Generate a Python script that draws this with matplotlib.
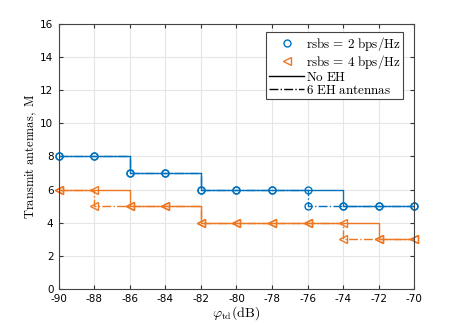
import matplotlib
matplotlib.use("Agg")
import matplotlib.pyplot as plt
from matplotlib.lines import Line2D

plt.rcParams['mathtext.fontset'] = 'cm'
plt.rcParams['axes.unicode_minus'] = False

# data
x_db = [-90, -88, -86, -84, -82, -80, -78, -76, -74, -72, -70]
m_r2_noeh = [8, 8, 7, 7, 6, 6, 6, 6, 5, 5, 5]
m_r2_eh = [8, 8, 7, 7, 6, 6, 6, 5, 5, 5, 5]
m_r4_noeh = [6, 6, 5, 5, 4, 4, 4, 4, 4, 3, 3]
m_r4_eh = [6, 5, 5, 5, 4, 4, 4, 4, 3, 3, 3]

BLUE = '#0072BD'
ORANGE = '#EE7722'
lw = 1.0

fig = plt.figure(figsize=(4.57, 3.25), dpi=100)
ax = fig.add_axes([0.129, 0.111, 0.777, 0.815])

for y, col, mk, ms, ls in [(m_r2_eh, BLUE, 'o', 5, '-.'),
                           (m_r4_eh, ORANGE, '<', 6, '-.'),
                           (m_r2_noeh, BLUE, 'o', 5, '-'),
                           (m_r4_noeh, ORANGE, '<', 6, '-')]:
    ax.step(x_db, y, where='post', color=col, lw=lw, ls=ls)
    ax.plot(x_db, y, ls='none', marker=mk, mfc='none', mec=col, ms=ms, mew=1.0,
            clip_on=False)

ax.set_xlim(-90, -70)
ax.set_ylim(0, 16)
ax.set_xticks(range(-90, -69, 2))
ax.set_yticks(range(0, 17, 2))
ax.grid(True, color='#e6e6e6', lw=0.8)
ax.set_axisbelow(True)
ax.tick_params(direction='in', top=True, right=True, labelsize=7.5, length=3,
               color='#333333', pad=4)
for s in ax.spines.values():
    s.set_color('#444444')
    s.set_linewidth(0.8)

ax.set_xlabel(r'$\varphi_{\rm td}\mathrm{(dB)}$', fontsize=10, labelpad=0)
ax.set_ylabel(r'$\mathrm{Transmit\ antennas,\ M}$', fontsize=9, labelpad=1)

handles = [
    Line2D([], [], ls='none', marker='o', mfc='none', mec=BLUE, ms=5),
    Line2D([], [], ls='none', marker='<', mfc='none', mec=ORANGE, ms=6),
    Line2D([], [], color='k', lw=1.0, ls='-'),
    Line2D([], [], color='k', lw=1.0, ls='-.'),
]
labels = [r'$\mathrm{rsbs}\, =\, 2\ \mathrm{bps/Hz}$',
          r'$\mathrm{rsbs}\, =\, 4\ \mathrm{bps/Hz}$',
          r'$\mathrm{No\ EH}$',
          r'$\mathrm{6\ EH\ antennas}$']
leg = ax.legend(handles, labels, loc='upper right', fontsize=9.4,
                bbox_to_anchor=(0.97, 0.97), fancybox=False, framealpha=1,
                edgecolor='#444444', handlelength=2.7, handletextpad=0.15,
                labelspacing=0.0, borderpad=0.2, borderaxespad=0)
leg.get_frame().set_linewidth(0.8)

fig.savefig('out.png', dpi=100)
